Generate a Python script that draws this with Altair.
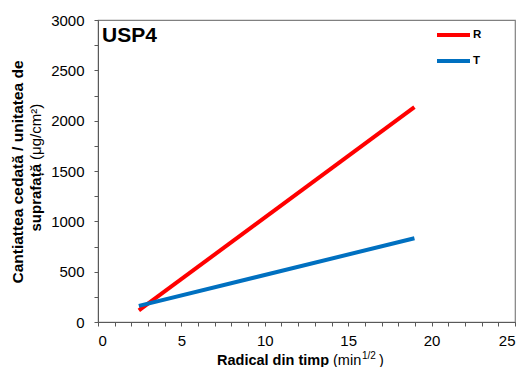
import altair as alt
import pandas as pd

# Data
series = ["R", "R", "T", "T"]
x_vals = [2.45, 18.97, 2.45, 18.97]
y_vals = [115, 2135, 160, 832]

df = pd.DataFrame({"series": series, "x": x_vals, "y": y_vals})

FONT = "Liberation Sans"
W, H = 417, 302

x_ticks = list(range(0, 26))
y_ticks = list(range(0, 3001, 250))

lines = alt.Chart(df).mark_line(strokeWidth=4).encode(
    x=alt.X("x:Q", scale=alt.Scale(domain=[0, 25], nice=False),
            axis=alt.Axis(values=x_ticks, title=None, grid=False, format="d",
                          labelExpr="datum.value % 5 == 0 ? datum.label : ''",
                          tickSize=4, labelPadding=7, labelFontSize=15,
                          labelFont=FONT, labelColor="black",
                          domainColor="#595959", tickColor="#595959")),
    y=alt.Y("y:Q", scale=alt.Scale(domain=[0, 3000], nice=False),
            axis=alt.Axis(values=y_ticks, title=None, grid=False, format="d",
                          labelExpr="datum.value % 500 == 0 ? datum.label : ''",
                          tickSize=4, labelPadding=10, labelFontSize=15,
                          labelFont=FONT, labelColor="black",
                          domainColor="#595959", tickColor="#595959")),
    color=alt.Color("series:N", scale=alt.Scale(domain=["R", "T"], range=["#FF0000", "#0070C0"]), legend=None),
    detail="series:N",
)

def txt(s, x, y, size=13, weight="bold", align="left", baseline="alphabetic", angle=None):
    kw = dict(text=s, font=FONT, fontSize=size, fontWeight=weight, align=align, baseline=baseline, color="black")
    if angle is not None:
        kw["angle"] = angle
    return alt.Chart().mark_text(**kw).encode(x=alt.value(x), y=alt.value(y))

def legline(color, y):
    return alt.Chart().mark_rule(color=color, strokeWidth=4).encode(
        x=alt.value(339), x2=alt.value(372), y=alt.value(y))

layers = [
    lines,
    txt("USP4", 4, 22, size=21),
    legline("#FF0000", 15),
    legline("#0070C0", 41),
    txt("R", 375, 15, size=11.5, baseline="middle"),
    txt("T", 375, 41, size=11.5, baseline="middle"),
    # x-axis title
    txt("Radical din timp", 119, 345, size=14.5),
    txt("(min", 235, 345, size=14.5, weight="normal"),
    txt("1/2", 264, 339, size=10, weight="normal"),
    txt(")", 281, 345, size=14.5, weight="normal"),
    # y-axis title
    txt("Cantiattea cedată / unitatea de", -80, 152, size=15.5, align="center", baseline="middle", angle=270),
    txt("suprafață", -62, 144, size=15, align="right", baseline="middle", angle=270),
    txt("(μg/cm²)", -62, 140, size=15, weight="normal", align="left", baseline="middle", angle=270),
]

chart = alt.layer(*layers).properties(
    width=W, height=H,
    autosize=alt.AutoSizeParams(type="none"),
    padding={"left": 98, "top": 20, "right": 10, "bottom": 45},
    background="white",
).configure_view(stroke="#808080", strokeWidth=1.2)

chart.save("out.html", embed_options={"renderer": "svg", "actions": False})
